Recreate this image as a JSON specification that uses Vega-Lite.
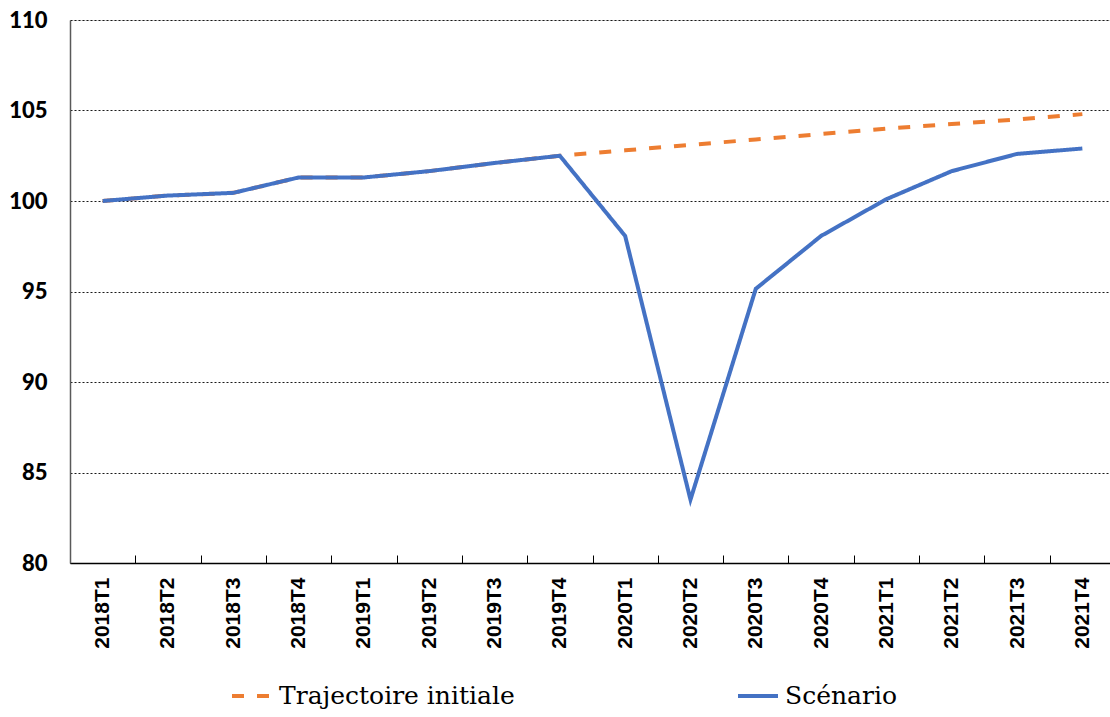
{
  "$schema": "https://vega.github.io/schema/vega-lite/v6.json",
  "width": 1045,
  "height": 543,
  "autosize": {"type": "none"},
  "padding": {"left": 70, "top": 20, "right": 0, "bottom": 154},
  "background": "white",
  "data": {
    "values": [
      {"t": "2018T1", "serie": "Trajectoire initiale", "v": 100.0},
      {"t": "2018T2", "serie": "Trajectoire initiale", "v": 100.3},
      {"t": "2018T3", "serie": "Trajectoire initiale", "v": 100.45},
      {"t": "2018T4", "serie": "Trajectoire initiale", "v": 101.3},
      {"t": "2019T1", "serie": "Trajectoire initiale", "v": 101.3},
      {"t": "2019T2", "serie": "Trajectoire initiale", "v": 101.65},
      {"t": "2019T3", "serie": "Trajectoire initiale", "v": 102.1},
      {"t": "2019T4", "serie": "Trajectoire initiale", "v": 102.5},
      {"t": "2020T1", "serie": "Trajectoire initiale", "v": 102.8},
      {"t": "2020T2", "serie": "Trajectoire initiale", "v": 103.1},
      {"t": "2020T3", "serie": "Trajectoire initiale", "v": 103.4},
      {"t": "2020T4", "serie": "Trajectoire initiale", "v": 103.7},
      {"t": "2021T1", "serie": "Trajectoire initiale", "v": 104.0},
      {"t": "2021T2", "serie": "Trajectoire initiale", "v": 104.25},
      {"t": "2021T3", "serie": "Trajectoire initiale", "v": 104.5},
      {"t": "2021T4", "serie": "Trajectoire initiale", "v": 104.8},
      {"t": "2018T1", "serie": "Scénario", "v": 100.0},
      {"t": "2018T2", "serie": "Scénario", "v": 100.3},
      {"t": "2018T3", "serie": "Scénario", "v": 100.45},
      {"t": "2018T4", "serie": "Scénario", "v": 101.3},
      {"t": "2019T1", "serie": "Scénario", "v": 101.3},
      {"t": "2019T2", "serie": "Scénario", "v": 101.65},
      {"t": "2019T3", "serie": "Scénario", "v": 102.1},
      {"t": "2019T4", "serie": "Scénario", "v": 102.5},
      {"t": "2020T1", "serie": "Scénario", "v": 98.07},
      {"t": "2020T2", "serie": "Scénario", "v": 83.5},
      {"t": "2020T3", "serie": "Scénario", "v": 95.15},
      {"t": "2020T4", "serie": "Scénario", "v": 98.07},
      {"t": "2021T1", "serie": "Scénario", "v": 100.1},
      {"t": "2021T2", "serie": "Scénario", "v": 101.65},
      {"t": "2021T3", "serie": "Scénario", "v": 102.6},
      {"t": "2021T4", "serie": "Scénario", "v": 102.9}
    ]
  },
  "encoding": {
    "x": {
      "field": "t", "type": "ordinal", "bandPosition": 0.5,
      "scale": {"type": "band", "paddingInner": 0, "paddingOuter": 0},
      "axis": {
        "title": null, "labelAngle": 270, "labelAlign": "right", "labelBaseline": "middle",
        "labelFont": "Liberation Sans", "labelFontWeight": "bold", "labelFontSize": 21, "labelColor": "black",
        "labelPadding": 22, "tickBand": "extent", "tickSize": -8, "tickColor": "black", "tickWidth": 1,
        "domainColor": "black", "domainWidth": 1.5, "grid": false
      }
    },
    "y": {
      "field": "v", "type": "quantitative",
      "scale": {"domain": [80, 110], "nice": false, "zero": false},
      "axis": {
        "title": null, "values": [80, 85, 90, 95, 100, 105, 110], "ticks": false,
        "labelFont": "Lato", "labelFontWeight": 900, "labelFontSize": 22, "labelColor": "black",
        "labelPadding": 23, "domainColor": "#595959", "domainWidth": 1.5,
        "grid": true, "gridColor": "black", "gridDash": [2, 2], "gridWidth": 1, "gridOpacity": 0.9
      }
    },
    "color": {
      "field": "serie", "type": "nominal",
      "scale": {"domain": ["Trajectoire initiale", "Scénario"], "range": ["#ED7D31", "#4472C4"]},
      "legend": {
        "title": null, "orient": "none", "direction": "horizontal", "legendX": 160, "legendY": 654,
        "symbolType": "stroke", "symbolSize": 1600, "symbolStrokeWidth": 4,
        "labelFont": "DejaVu Serif", "labelFontSize": 25, "labelColor": "black",
        "labelOffset": 5, "columnPadding": 215, "labelLimit": 400
      }
    },
    "strokeDash": {
      "field": "serie", "type": "nominal",
      "scale": {"domain": ["Trajectoire initiale", "Scénario"], "range": [[12, 13], [1, 0]]}
    }
  },
  "layer": [
    {
      "transform": [{"filter": "datum.serie === 'Trajectoire initiale'"}],
      "mark": {"type": "line", "strokeWidth": 4}
    },
    {
      "transform": [{"filter": "datum.serie === 'Scénario'"}],
      "mark": {"type": "line", "strokeWidth": 4}
    }
  ]
}
